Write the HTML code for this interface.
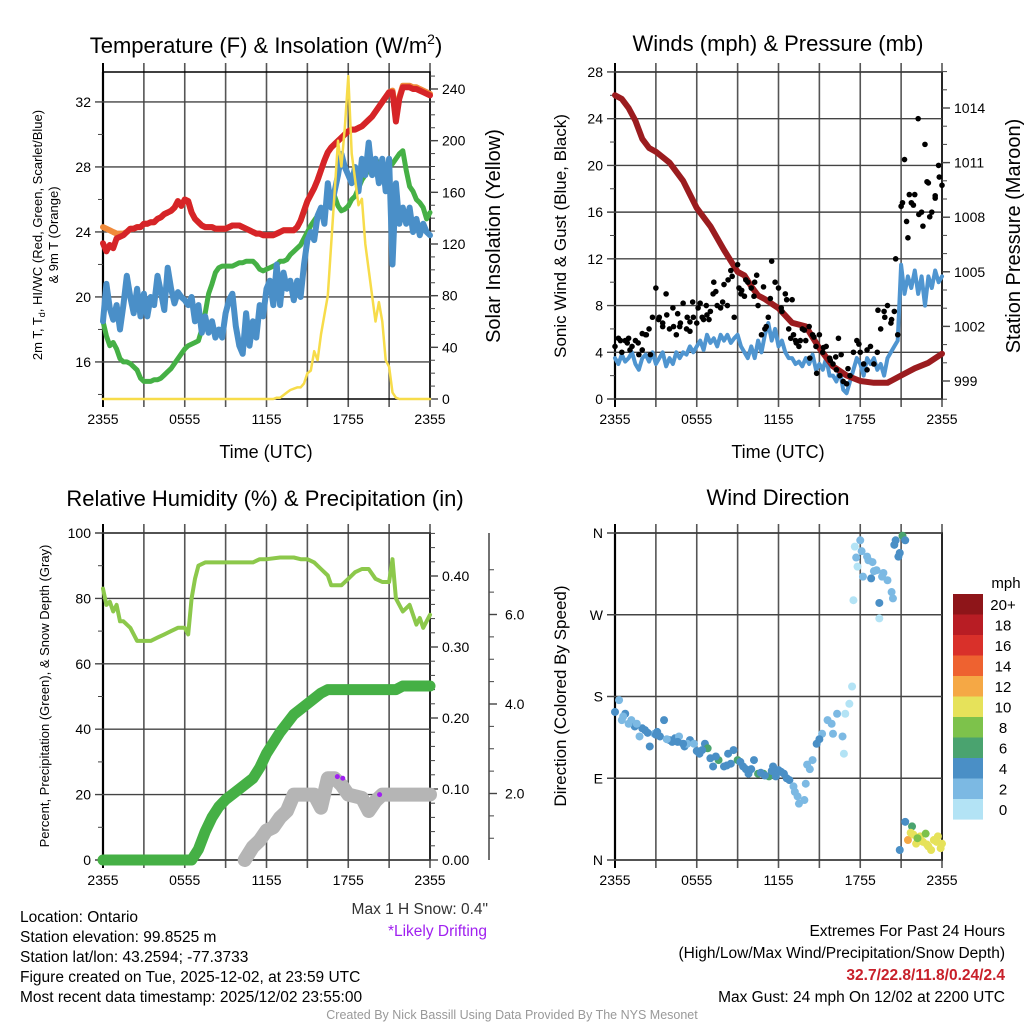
<!DOCTYPE html>
<html><head><meta charset="utf-8"><style>
html,body{margin:0;padding:0;background:#fff}
svg{display:block;font-family:"Liberation Sans",sans-serif}
.n{font-family:"Liberation Sans Narrow","Liberation Sans",sans-serif}
</style></head><body>
<svg id="s" width="1024" height="1024" viewBox="0 0 1024 1024" xmlns="http://www.w3.org/2000/svg">
<g id="g"></g>
</svg>
<script>
// ---- data (hours since 2355 UTC; 0.25 h steps unless noted) ----
const tempRed=[23.3,22.8,23.2,23.0,23.6,23.7,23.8,24.0,24.2,24.2,24.3,24.3,24.5,24.5,24.6,24.6,24.8,24.9,25.1,25.2,25.3,25.5,25.9,25.6,26.0,25.9,25.2,24.8,24.6,24.4,24.3,24.3,24.3,24.2,24.2,24.2,24.2,24.3,24.4,24.4,24.4,24.3,24.2,24.1,24.0,23.9,23.9,23.8,23.8,23.8,23.8,23.9,24.0,24.1,24.1,24.1,24.1,24.3,24.7,25.3,25.9,26.3,26.7,27.2,27.8,28.4,28.9,29.2,29.4,29.6,29.8,30.0,30.2,30.3,30.3,30.4,30.5,30.7,30.9,31.1,31.4,31.7,32.0,32.3,32.6,32.6,30.8,32.2,32.9,32.9,32.9,32.8,32.8,32.7,32.6,32.5,32.4];
const temp9m=[24.3,24.2,24.1,24.0,23.9,23.9,23.9,24.0,24.2,24.2,24.3,24.3,24.5,24.5,24.6,24.6,24.8,24.9,25.1,25.2,25.3,25.5,25.9,25.6,26.0,25.9,25.2,24.8,24.6,24.4,24.3,24.3,24.3,24.2,24.2,24.2,24.2,24.3,24.4,24.4,24.4,24.3,24.2,24.1,24.0,23.9,23.9,23.8,23.8,23.8,23.8,23.9,24.0,24.1,24.1,24.1,24.1,24.3,24.7,25.3,25.9,26.3,26.7,27.2,27.8,28.4,28.9,29.2,29.4,29.6,29.8,30.0,30.2,30.3,30.3,30.4,30.5,30.7,30.9,31.1,31.4,31.7,32.0,32.3,32.6,32.7,31.0,32.3,33.0,33.0,33.0,32.9,32.9,32.8,32.7,32.6,32.5];
const dewGreen=[18.5,17.6,17.0,17.2,16.8,16.2,16.0,16.0,15.9,15.7,15.5,15.0,14.8,14.8,14.8,14.9,14.9,15.0,15.2,15.4,15.6,15.9,16.2,16.5,16.8,17.0,17.1,17.2,17.3,18.0,19.0,20.2,20.8,21.5,21.8,21.9,21.9,21.9,21.9,22.0,22.1,22.1,22.2,22.2,22.2,22.0,21.7,21.6,21.7,21.8,21.9,22.0,22.2,22.2,22.3,22.6,22.8,23.0,23.2,23.6,24.0,24.4,24.7,25.0,25.3,25.5,25.6,26.2,26.2,25.6,25.3,25.4,25.6,26.0,26.2,26.7,27.2,27.5,27.8,28.1,28.4,28.3,28.2,28.1,28.0,28.2,28.5,28.8,29.0,27.8,26.8,26.5,26.0,25.8,25.5,24.8,25.2];
const windChill=[18.5,20.8,19.3,18.6,19.5,18.0,19.5,21.3,20.0,19.0,20.5,18.8,20.2,18.8,20.0,19.5,21.3,20.3,19.2,21.8,20.5,19.6,20.3,20.0,19.8,19.5,20.0,18.5,19.5,17.8,18.8,17.8,18.5,17.5,18.0,17.5,19.0,19.8,20.2,18.2,17.0,16.5,19.0,17.0,18.5,17.5,19.5,18.8,20.5,21.0,19.5,22.0,19.5,21.5,20.5,21.0,19.8,21.0,20.0,22.0,23.5,24.0,23.5,25.0,25.5,24.5,27.0,25.5,26.5,27.5,28.8,28.0,27.5,27.0,28.0,26.5,28.5,27.5,29.5,27.5,28.5,27.0,28.5,26.5,28.5,22.0,27.0,24.5,25.5,24.5,25.5,24.0,24.8,23.8,24.5,24.0,23.8];
const solar=[0,0,0,0,0,0,0,0,0,0,0,0,0,0,0,0,0,0,0,0,0,0,0,0,0,0,0,0,0,0,0,0,0,0,0,0,0,0,0,0,0,0,0,0,0,0,0,0,0,0,0,1,1,3,5,7,8,9,9,12,20,22,37,30,50,65,80,120,160,200,180,210,250,190,170,150,155,120,100,80,60,75,60,30,25,5,1,0,0,0,0,0,0,0,0,0,0];
const gust=[4.5,5.2,4.0,5.0,5.2,4.5,5.0,3.8,4.2,5.5,6.0,7.0,9.5,7.0,6.5,9.0,6.0,7.8,5.5,6.2,8.2,6.0,5.8,7.0,6.5,8.2,6.8,7.2,7.5,10.0,8.0,7.8,9.8,8.0,11.0,7.0,11.5,9.0,8.8,10.0,9.5,10.0,8.0,5.5,6.0,7.0,11.8,10.0,9.5,7.5,9.0,6.0,8.5,5.0,4.5,6.0,5.0,6.2,5.5,4.5,5.5,4.0,4.5,3.5,3.0,2.5,2.0,1.5,1.3,2.0,4.0,5.0,4.0,3.0,2.5,4.5,3.0,4.0,6.0,7.5,8.0,6.5,7.5,5.5,16.5,20.5,13.8,16.8,17.5,24.0,16.0,21.8,18.5,16.0,17.2,20.0,18.3];
const gustExtra=[5.0,4.2,4.8,5.5,3.8,6.8,7.2,6.2,6.5,7.0,8.3,7.0,6.8,9.2,8.3,10.5,9.5,10.2,10.6,9.6,8.6,7.8,8.5,5.5,5.0,3.5,2.2,3.3,5.2,3.8,4.7,7.6,7.0,12.0,16.8,15.2,17.5,16.6,15.8,14.8,18.6,15.6,17.4,19.0,4.8,5.6,6.2,7.3,6.6,7.8,8.0,9.0,10.2,9.3,8.8,6.2,5.2,4.8,5.9,5.3,4.4,3.6,2.6,4.2,6.8];
const gustExtraT=[0.4,1.1,1.7,2.3,2.6,3.2,3.8,4.3,4.8,5.3,5.7,6.4,6.9,7.4,7.9,8.6,9.1,9.6,10.4,10.9,11.4,12.2,12.6,13.1,13.6,14.3,14.8,15.8,16.4,16.6,17.9,19.3,19.8,20.6,21.1,21.4,21.6,21.9,22.3,22.6,22.9,23.1,23.5,23.8,0.9,2.0,3.5,4.6,5.5,6.1,6.7,7.2,8.3,9.3,10.2,11.1,12.9,13.3,13.9,14.6,15.3,16.2,17.1,18.5,20.3];
const sonic=[3.5,3.0,3.8,3.2,3.5,4.0,3.0,2.5,3.5,3.8,3.2,4.0,3.0,3.5,4.0,2.8,3.5,3.0,4.0,3.5,4.0,3.8,4.5,4.0,4.5,5.0,4.2,5.5,4.8,5.2,4.5,5.5,5.0,5.5,4.8,5.2,5.5,4.5,4.0,3.5,4.5,3.5,5.0,4.0,5.5,6.5,5.0,6.0,4.5,5.0,4.0,3.5,3.5,3.0,3.2,2.8,3.5,3.0,3.8,2.5,3.0,2.5,3.5,2.0,2.0,1.5,2.5,0.8,0.5,1.5,2.5,3.5,3.0,2.0,3.5,3.0,3.5,2.5,3.0,2.0,3.5,4.0,4.5,5.0,11.5,9.0,10.5,9.5,11.0,9.0,10.5,8.0,10.5,9.5,11.0,10.0,10.5];
const presT=[0,0.5,1,1.5,2,2.5,3,4,5,6,7,8,9,9.5,10,10.5,11,12,13,14,15,16,17,18,19,20,21,22,23,24];
const pres=[1014.7,1014.5,1014.0,1013.3,1012.3,1011.8,1011.6,1011.0,1010.0,1008.5,1007.5,1006.2,1005.0,1004.8,1004.2,1003.7,1003.5,1003.0,1002.2,1002.0,1000.8,999.8,999.3,999.0,998.9,998.9,999.3,999.7,1000.0,1000.5];
const rhT=[0,0.25,0.5,0.75,1,1.25,1.5,2,2.5,3,3.5,4,4.5,5,5.5,6,6.25,6.5,6.75,7,7.5,8,9,10,11,11.5,12,13,14,14.5,15,15.5,16,16.5,16.75,17,17.5,18,18.5,19,19.5,20,20.5,21,21.25,21.5,22,22.5,23,23.25,23.5,24];
const rh=[83,78,79,76,78,73,73,71,67,67,67,68,69,70,71,71,69,80,86,90,91,91,91,91,91,92,92,92.5,92.5,92,92,91,89,87,84,84,84,86,88,89,89,86,85,85,92,80,76,78,72,74,71,75];
const precipT=[0,6.5,7,7.5,8,8.5,9,10,11,11.5,12,13,14,15,16,16.5,21,21.5,22,24];
const precip=[0,0,0.015,0.04,0.06,0.075,0.085,0.1,0.115,0.13,0.15,0.18,0.205,0.22,0.235,0.24,0.24,0.24,0.245,0.245];
const snowT=[10.4,11,11.5,12,12.5,13,13.5,14,14.5,15,15.5,16,16.5,17,17.5,18,19,19.5,20,20.5,24];
const snow=[0,0.4,0.6,0.9,1.0,1.3,1.5,2.0,2.0,2.0,2.0,1.6,2.5,2.5,2.3,2.0,1.9,1.5,1.8,2.0,2.0];
const driftT=[17.2,17.6,20.3];
const drift=[2.55,2.5,2.0];
const dirT=[0,0.3,0.5,0.75,1.2,1.45,1.8,2.2,2.55,2.9,3.3,3.6,4.0,4.4,4.7,5.1,5.5,5.8,6.2,6.6,6.8,7.2,7.6,8.0,8.3,8.7,9.0,9.4,9.8,10.2,10.5,10.9,11.3,11.6,12.0,12.4,12.8,13.1,13.5,13.9,13.4,14.0,14.1,14.5,14.8,15.2,15.6,16.0,16.3,16.7,16.8,16.9,17.2,17.4,17.5,17.6,17.8,18.0,18.2,18.5,18.8,18.9,19.2,19.4,19.4,19.7,20.0,20.3,20.4,20.5,20.8,20.9,21.1,21.3,20.9,21.3,21.5,21.8,21.9,22.1,22.4,22.8,22.9,23.2,23.4,23.7,23.9,24.0,22.6,23.0,1.0,2.0,3.0,4.2,5.3,6.0,7.0,8.5,9.6,10.7,11.8,12.2,0.6,1.6,2.4,3.1,3.8,4.6,5.0,6.4,7.4,8.2,9.2,10.0,11.0,11.5,12.6,13.2,14.3,15.0,15.9,17.7,18.1,18.6,19.0,19.6,20.6,21.7,22.2,23.6];
const dirV=[163,176,154,161,154,147,136,143,125,139,136,154,132,134,136,125,132,128,117,128,123,103,110,103,117,121,110,103,95,110,95,95,92,103,99,95,88,81,62,66,70,84,105,110,128,139,154,139,161,136,117,161,172,191,286,345,323,352,312,334,310,328,319,283,266,316,308,295,288,347,334,338,357,352,11,42,22,37,28,18,26,29,17,11,22,26,13,18,20,15,150,145,138,130,128,120,112,106,100,96,92,97,158,150,140,141,133,130,128,121,114,104,108,100,93,98,90,75,100,133,150,333,340,330,318,312,352,30,24,20];
const dirS=[4,2,2,4,2,4,2,4,4,2,4,4,4,4,2,4,4,2,4,4,6,4,6,4,4,4,6,4,4,4,6,6,6,4,4,4,4,2,2,2,2,2,2,2,4,2,2,2,2,2,0,0,0,0,0,0,0,2,2,2,4,2,2,4,0,2,2,2,2,4,4,4,6,4,4,4,12,6,10,10,10,8,10,10,10,10,10,10,10,10,2,4,4,4,2,4,4,4,4,4,4,4,2,2,4,4,2,4,4,4,4,4,4,4,4,4,4,2,2,4,2,2,2,2,2,2,4,10,8,10];
const barLabels=["20+","18","16","14","12","10","8","6","4","2","0"];
const barColors=["#8e1519","#b81d24","#d9302a","#ee6230","#f5a845","#e6e25a","#7dc24b","#4aa36f","#4a8fc6","#7cb9e3","#b3e3f5"];
const xTickLabels=["2355","0555","1155","1755","2355"];

// ---- helpers ----
const NS="http://www.w3.org/2000/svg";
const G=document.getElementById('g');
function mk(tag,attrs,parent){const e=document.createElementNS(NS,tag);for(const k in attrs)e.setAttribute(k,attrs[k]);(parent||G).appendChild(e);return e;}
function txt(x,y,s,size,opt){opt=opt||{};const e=mk('text',{x:x,y:y,'font-size':size,'text-anchor':opt.anchor||'middle',fill:opt.fill||'#000'});if(opt.cls)e.setAttribute('class',opt.cls);if(opt.weight)e.setAttribute('font-weight',opt.weight);if(opt.rot)e.setAttribute('transform','rotate(-90 '+x+' '+y+')');e.textContent=s;return e;}
function pathD(xs,ys){let d='';for(let i=0;i<xs.length;i++)d+=(i?'L':'M')+xs[i].toFixed(1)+','+ys[i].toFixed(1);return d;}

function frame(x0,y0,name){
  const g=mk('g',{});
  
  
  for(let i=0;i<=8;i++){const x=x0+i*327/8;mk('line',{x1:x,y1:y0-9,x2:x,y2:y0+335,stroke:i==0?'#000':'#555','stroke-width':i==0?2:1.6},g);}
  for(let i=0;i<5;i++){const t=mk('text',{x:x0+i*81.75,y:y0+352,'font-size':14,'text-anchor':'middle',class:'n'},g);t.textContent=xTickLabels[i];}
  mk('rect',{x:x0,y:y0,width:327,height:327,fill:'none',stroke:'#000','stroke-width':1.5},g);
  mk('line',{x1:x0,y1:y0,x2:x0,y2:y0+327,stroke:'#000','stroke-width':2.2},g);
}
function yAxis(x0,side,vals,fn,labels,minors,name){
  const g=mk('g',{});
  
  
  const d=side=='L'?-1:1;
  vals.forEach((v,i)=>{const y=fn(v);
    if(side=='L'){mk('line',{x1:x0-8,y1:y,x2:x0+327,y2:y,stroke:'#444','stroke-width':1.4},g);}
    else mk('line',{x1:x0,y1:y,x2:x0+8,y2:y,stroke:'#444','stroke-width':1.4},g);
    const t=mk('text',{x:x0+d*12,y:y+5,'font-size':14,'text-anchor':side=='L'?'end':'start'},g);t.textContent=labels[i];});
  minors.forEach(v=>{const y=fn(v);mk('line',{x1:x0,y1:y,x2:x0+d*5,y2:y,stroke:'#444','stroke-width':1},g);});
}
function range(a,b,s){const r=[];for(let v=a;v<=b+1e-9;v+=s)r.push(+v.toFixed(4));return r;}
function series(xs,ys,color,w,name){const p=mk('path',{d:pathD(xs,ys),fill:'none',stroke:color,'stroke-width':w,'stroke-linejoin':'round','stroke-linecap':'round'});return p;}
function qx(x0,n){const r=[];for(let i=0;i<n;i++)r.push(x0+i*0.25*13.625);return r;}
const hx=(x0,h)=>x0+h*13.625;

// ---- Panel A: Temperature ----
const aL=v=>399-(v-13.72)*16.25, aR=v=>399-v*1.2917;
frame(103,72,'temperature');
yAxis(103,'L',[16,20,24,28,32],aL,['16','20','24','28','32'],[14,18,22,26,30],'temp-left-axis');
yAxis(430,'R',[0,40,80,120,160,200,240],aR,['0','40','80','120','160','200','240'],range(0,250,10),'solar-right-axis');
series(qx(103,97),temp9m.map(aL),'#f08a3a',6,'series-9m-temp');
series(qx(103,97),tempRed.map(aL),'#d62428',6,'series-2m-temp');
series(qx(103,97),dewGreen.map(aL),'#45b045',5,'series-dewpoint');
series(qx(103,97),windChill.map(aL),'#4a8fc8',6,'series-wind-chill');
series(qx(103,97),solar.map(aR),'#f7dc4a',2.5,'series-solar');
txt(266,53,'',22).innerHTML='Temperature (F) &amp; Insolation (W/m<tspan font-size="14" dy="-9">2</tspan><tspan dy="9">)</tspan>';

let t;
t=txt(42,235,'2m T, Td, HI/WC (Red, Green, Scarlet/Blue)',13,{rot:1});t.innerHTML='2m T, T<tspan font-size="9" dy="3">d</tspan><tspan dy="-3">, HI/WC (Red, Green, Scarlet/Blue)</tspan>';
t=txt(58,235,'& 9m T (Orange)',13,{rot:1});
t=txt(500,236,'Solar Insolation (Yellow)',20,{rot:1});
t=txt(266,458,'Time (UTC)',18);

// ---- Panel B: Winds ----
const bL=v=>399-v*11.68, bR=p=>381-(p-999)*18.2;
frame(615,72,'winds');
yAxis(615,'L',range(0,28,4),bL,range(0,28,4).map(String),range(2,26,4),'wind-left-axis');
yAxis(942,'R',[999,1002,1005,1008,1011,1014],bR,['999','1002','1005','1008','1011','1014'],range(998,1016,1),'pressure-right-axis');
series(qx(615,97),sonic.map(bL),'#4f95d0',4,'series-sonic-wind');
series(presT.map(h=>hx(615,h)),pres.map(bR),'#9b1c1f',6,'series-pressure');
gust.forEach((v,i)=>{const c=mk('circle',{cx:615+i*0.25*13.625,cy:bL(v),r:2.8,fill:'#000'});});
gustExtra.forEach((v,i)=>{const c=mk('circle',{cx:hx(615,gustExtraT[i]),cy:bL(v),r:2.8,fill:'#000'});});
t=txt(778,51,'Winds (mph) & Pressure (mb)',22);
t=txt(566,236,'Sonic Wind & Gust (Blue, Black)',17,{rot:1});
t=txt(1020,236,'Station Pressure (Maroon)',20,{rot:1});
t=txt(778,458,'Time (UTC)',18);

// ---- Panel C: RH & precip ----
const cL=v=>860-v*3.27, cR=v=>860-v*710, cT=v=>883-v*44.75;
frame(103,533,'humidity');
yAxis(103,'L',[0,20,40,60,80,100],cL,['0','20','40','60','80','100'],[10,30,50,70,90],'rh-left-axis');
yAxis(430,'R',[0,0.1,0.2,0.3,0.4],cR,['0.00','0.10','0.20','0.30','0.40'],range(0,0.46,0.02),'precip-right-axis');
{const g=mk('g',{});
 mk('line',{x1:489,y1:533,x2:489,y2:860,stroke:'#444','stroke-width':1.5},g);
 [2,4,6].forEach(v=>{mk('line',{x1:489,y1:cT(v),x2:497,y2:cT(v),stroke:'#444','stroke-width':1.4},g);const e=mk('text',{x:505,y:cT(v)+5,'font-size':14},g);e.textContent=v.toFixed(1);});
 range(0.5,7,0.5).forEach(v=>{const y=cT(v);if(y>=533&&y<=860)mk('line',{x1:489,y1:y,x2:494,y2:y,stroke:'#444','stroke-width':1},g);});}
series(rhT.map(h=>hx(103,h)),rh.map(cL),'#8cc84b',4,'series-rh');
series(precipT.map(h=>hx(103,h)),precip.map(cR),'#45b045',11,'series-precip');
series(snowT.map(h=>hx(103,h)),snow.map(v=>cL(v*10)),'#b5b5b5',14,'series-snow-depth');
driftT.forEach((h,i)=>{const c=mk('circle',{cx:hx(103,h),cy:cL(drift[i]*10),r:2.5,fill:'#a020f0'});});
t=txt(265,506,'Relative Humidity (%) & Precipitation (in)',22);
t=txt(49,696,'Percent, Precipitation (Green), & Snow Depth (Gray)',13,{rot:1});

// ---- Panel D: Wind direction ----
const dY=d=>860-d*0.9083;
frame(615,533,'wind-direction');
yAxis(615,'L',[0,90,180,270,360],dY,['N','E','S','W','N'],[],'direction-axis');
dirT.forEach((h,i)=>{const idx=dirS[i]>=20?0:10-Math.round(dirS[i]/2);const c=mk('circle',{cx:hx(615,h),cy:dY(dirV[i]),r:4,fill:barColors[idx]});});
t=txt(778,505,'Wind Direction',22);
t=txt(566,696,'Direction (Colored By Speed)',17,{rot:1});
{const g=mk('g',{});
 barColors.forEach((c,i)=>{mk('rect',{x:953,y:594+i*20.5,width:30,height:20.6,fill:c},g);const e=mk('text',{x:1003,y:594+i*20.5+16,'font-size':15,'text-anchor':'middle'},g);e.textContent=barLabels[i];});
 const m=mk('text',{x:1006,y:588,'font-size':15,'text-anchor':'middle'},g);m.textContent='mph';}

// ---- footer text ----
const info=['Location: Ontario','Station elevation: 99.8525 m','Station lat/lon: 43.2594; -77.3733','Figure created on Tue, 2025-12-02, at 23:59 UTC','Most recent data timestamp: 2025/12/02 23:55:00'];
info.forEach((s,i)=>{const e=txt(20,922+i*20,s,15.5,{anchor:'start',cls:'n'});});
t=txt(488,914,'Max 1 H Snow: 0.4"',15.5,{anchor:'end',cls:'n',fill:'#333'});
t=txt(487,936,'*Likely Drifting',15.5,{anchor:'end',cls:'n',fill:'#a020f0'});
t=txt(1005,936,'Extremes For Past 24 Hours',15.5,{anchor:'end',cls:'n'});
t=txt(1005,958,'(High/Low/Max Wind/Precipitation/Snow Depth)',15.5,{anchor:'end',cls:'n'});
t=txt(1005,980,'32.7/22.8/11.8/0.24/2.4',15.5,{anchor:'end',cls:'n',fill:'#c8202a',weight:'bold'});
t=txt(1005,1002,'Max Gust: 24 mph On 12/02 at 2200 UTC',15.5,{anchor:'end',cls:'n'});
t=txt(512,1019,'Created By Nick Bassill Using Data Provided By The NYS Mesonet',12.5,{cls:'n',fill:'#999'});
</script>
</body></html>
